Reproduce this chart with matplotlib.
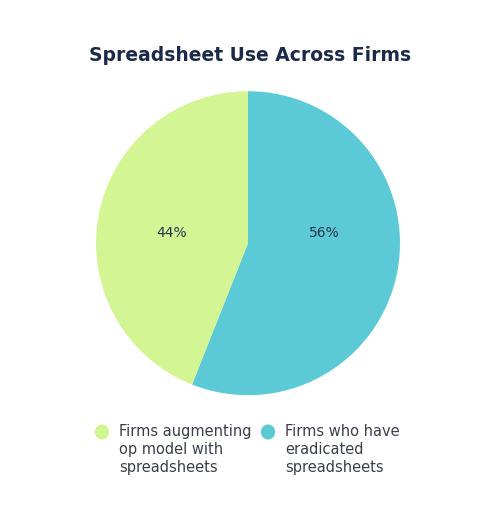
import matplotlib.pyplot as plt

labels = ['Firms who have\neradicated\nspreadsheets', 'Firms augmenting\nop model with\nspreadsheets']
values = [56, 44]
colors = ['#5bcad6', '#d3f593']

fig = plt.figure(figsize=(5, 5.23), dpi=100)
ax = fig.add_axes([0.496 - 0.304, 0.535 - 0.2906, 0.608, 0.5812])
wedges, texts, autotexts = ax.pie(values, colors=colors, startangle=90, counterclock=False,
                                  autopct='%d%%', pctdistance=0.6, frame=False,
                                  textprops=dict(color='#2a3550', fontsize=10))
ax.set_xlim(-1, 1)
ax.set_ylim(-1, 1)
ax.set_aspect('equal')
# labels sit level, left and right of centre
autotexts[0].set_position((0.5, 0.066))
autotexts[1].set_position((-0.5, 0.066))

fig.text(0.5, 0.893, 'Spreadsheet Use Across Firms', ha='center', va='center',
         fontsize=13.5, fontweight='semibold', color='#1b2a4a')

# legend, green first
leg_items = [(1, 0.204), (0, 0.536)]
for idx, x in leg_items:
    fig.patches.append(plt.Circle((x, 1 - 432 / 523), 0.013, transform=fig.transFigure,
                                  color=colors[idx]))
    fig.text(x + 0.034, 1 - 424 / 523, labels[idx], ha='left', va='top',
             fontsize=10.5, color='#3a3f4a', linespacing=1.25)

fig.savefig('out.png')
